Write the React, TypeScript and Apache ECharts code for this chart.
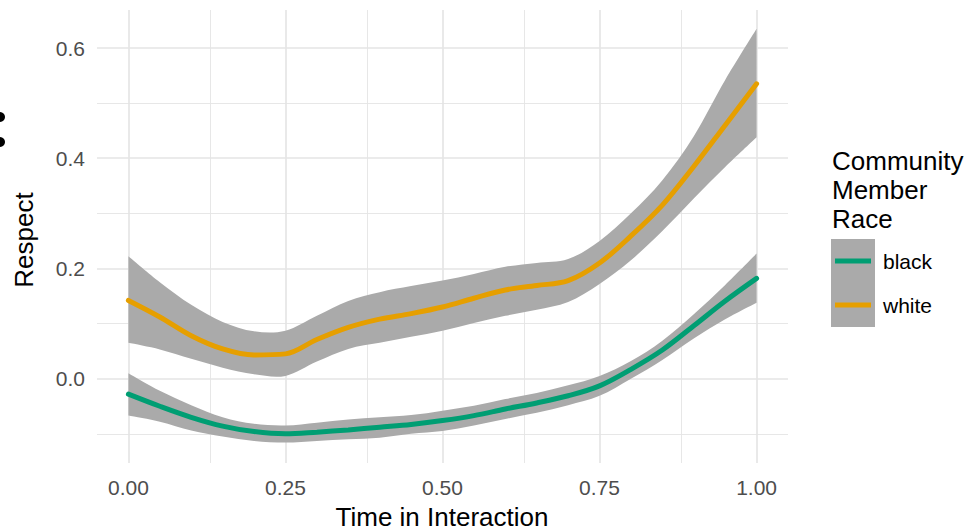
import { useEffect, useRef } from "react";
import * as echarts from "echarts";

// Time positions (x) at which the curves are read
const timePoints = [0, 0.05, 0.1, 0.15, 0.2, 0.25, 0.3, 0.35, 0.4, 0.45, 0.5, 0.55, 0.6, 0.65, 0.7, 0.75, 0.8, 0.85, 0.9, 0.95, 1.0];

// Community member race: white
const whiteFit = [0.142, 0.112, 0.078, 0.054, 0.043, 0.045, 0.071, 0.093, 0.108, 0.118, 0.13, 0.146, 0.161, 0.169, 0.178, 0.21, 0.259, 0.315, 0.385, 0.46, 0.535];
const whiteUpper = [0.222, 0.175, 0.134, 0.103, 0.086, 0.087, 0.114, 0.141, 0.157, 0.168, 0.178, 0.19, 0.203, 0.21, 0.217, 0.25, 0.3, 0.36, 0.44, 0.542, 0.635];
const whiteLower = [0.065, 0.053, 0.036, 0.02, 0.008, 0.005, 0.031, 0.054, 0.065, 0.076, 0.087, 0.101, 0.114, 0.125, 0.139, 0.172, 0.215, 0.268, 0.327, 0.384, 0.438];

// Community member race: black
const blackFit = [-0.028, -0.05, -0.07, -0.086, -0.096, -0.1, -0.097, -0.093, -0.088, -0.083, -0.076, -0.067, -0.055, -0.044, -0.031, -0.013, 0.017, 0.052, 0.096, 0.141, 0.182];
const blackUpper = [0.01, -0.022, -0.048, -0.07, -0.082, -0.085, -0.08, -0.074, -0.07, -0.066, -0.058, -0.049, -0.037, -0.026, -0.012, 0.005, 0.032, 0.069, 0.117, 0.17, 0.227];
const blackLower = [-0.067, -0.078, -0.094, -0.105, -0.113, -0.116, -0.113, -0.11, -0.107, -0.1, -0.095, -0.085, -0.073, -0.062, -0.048, -0.031, 0.0, 0.034, 0.073, 0.108, 0.138];

// Axes
const xTicks = [0, 0.25, 0.5, 0.75, 1.0];
const xMinor = [0.125, 0.375, 0.625, 0.875];
const yTicks = [0, 0.2, 0.4, 0.6];
const yMinor = [-0.1, 0.1, 0.3, 0.5];
const xRange = [-0.05, 1.05];
const yRange = [-0.153, 0.669];

const xTitle = "Time in Interaction";
const yTitle = "Respect";
const legendTitle = ["Community", "Member", "Race"];
const groupNames = ["black", "white"];
const groupColors = ["#009E73", "#E69F00"];

const FONT = "'Liberation Sans', Arial, Helvetica, sans-serif";
const BAND = "#aaaaaa";
const GRID = "#e4e4e4";

// Catmull-Rom spline through pixel points, as cubic bezier path commands
function splineSegments(pts: number[][]): string {
  let d = "";
  const n = pts.length;
  for (let i = 0; i < n - 1; i++) {
    const p0 = pts[i - 1] || pts[i];
    const p1 = pts[i];
    const p2 = pts[i + 1];
    const p3 = pts[i + 2] || pts[i + 1];
    const c1x = p1[0] + (p2[0] - p0[0]) / 6;
    const c1y = p1[1] + (p2[1] - p0[1]) / 6;
    const c2x = p2[0] - (p3[0] - p1[0]) / 6;
    const c2y = p2[1] - (p3[1] - p1[1]) / 6;
    d += ` C ${c1x} ${c1y} ${c2x} ${c2y} ${p2[0]} ${p2[1]}`;
  }
  return d;
}

function bandSeries(name: string, upper: number[], lower: number[]) {
  return {
    type: "custom",
    name: name + " band",
    z: 2,
    silent: true,
    data: timePoints.map((t, i) => [t, lower[i], upper[i]]),
    encode: { x: 0, y: [1, 2] },
    renderItem: (params: any, api: any) => {
      if (params.dataIndex !== 0) return { type: "group", children: [] };
      const up: number[][] = timePoints.map((t, i) => api.coord([t, upper[i]]));
      const lo: number[][] = timePoints.map((t, i) => api.coord([t, lower[i]])).reverse();
      const d =
        `M ${up[0][0]} ${up[0][1]}` +
        splineSegments(up) +
        ` L ${lo[0][0]} ${lo[0][1]}` +
        splineSegments(lo) +
        " Z";
      return { type: "path", shape: { pathData: d }, style: { fill: BAND } };
    },
  };
}

function fitSeries(name: string, fit: number[], color: string) {
  return {
    type: "line",
    name,
    z: 3,
    silent: true,
    smooth: 0.35,
    showSymbol: false,
    data: timePoints.map((t, i) => [t, fit[i]]),
    lineStyle: { color, width: 5, cap: "round" },
  };
}

export default function App() {
  const ref = useRef<HTMLDivElement>(null);
  useEffect(() => {
    if (!ref.current) return;
    const chart = echarts.init(ref.current, null, { renderer: "svg" });

    const major = { color: GRID, width: 1.6, type: "solid" };
    const minor = { color: GRID, width: 0.9, type: "solid" };
    const gridLines = [
      ...xMinor.map((v) => ({ xAxis: v, lineStyle: minor })),
      ...yMinor.map((v) => ({ yAxis: v, lineStyle: minor })),
      ...xTicks.map((v) => ({ xAxis: v, lineStyle: major })),
      ...yTicks.map((v) => ({ yAxis: v, lineStyle: major })),
    ];

    const legendX = 831;
    const legendTop = 239;
    const keySize = 44;

    chart.setOption({
      animation: false,
      backgroundColor: "#ffffff",
      textStyle: { fontFamily: FONT },
      grid: { left: 97, top: 10, width: 691, height: 453, containLabel: false },
      xAxis: {
        type: "value",
        min: xRange[0],
        max: xRange[1],
        axisLine: { show: false },
        axisTick: { show: false },
        splitLine: { show: false },
        axisLabel: {
          customValues: xTicks,
          formatter: (v: number) => v.toFixed(2),
          color: "#4d4d4d",
          fontSize: 21,
          fontFamily: FONT,
          margin: 14,
        },
      },
      yAxis: {
        type: "value",
        min: yRange[0],
        max: yRange[1],
        axisLine: { show: false },
        axisTick: { show: false },
        splitLine: { show: false },
        axisLabel: {
          customValues: yTicks,
          formatter: (v: number) => v.toFixed(1),
          color: "#4d4d4d",
          fontSize: 21,
          fontFamily: FONT,
          margin: 12,
        },
      },
      series: [
        {
          type: "line",
          name: "grid",
          data: [],
          silent: true,
          markLine: {
            silent: true,
            z: 1,
            symbol: ["none", "none"],
            label: { show: false },
            emphasis: { disabled: true },
            data: gridLines,
          },
        },
        bandSeries(groupNames[0], blackUpper, blackLower),
        bandSeries(groupNames[1], whiteUpper, whiteLower),
        fitSeries(groupNames[0], blackFit, groupColors[0]),
        fitSeries(groupNames[1], whiteFit, groupColors[1]),
      ],
      graphic: [
        {
          type: "text",
          x: 442,
          y: 530,
          style: { text: xTitle, font: `26px ${FONT}`, fill: "#000", align: "center", verticalAlign: "bottom" },
        },
        {
          type: "text",
          x: 24,
          y: 240,
          rotation: Math.PI / 2,
          style: { text: yTitle, font: `26px ${FONT}`, fill: "#000", align: "center", verticalAlign: "middle" },
        },
        ...legendTitle.map((t, i) => ({
          type: "text",
          x: 832,
          y: 161 + i * 29,
          style: { text: t, font: `26px ${FONT}`, fill: "#000", align: "left", verticalAlign: "middle" },
        })),
        {
          type: "rect",
          shape: { x: legendX, y: legendTop, width: keySize, height: keySize * 2 },
          style: { fill: BAND },
        },
        ...groupNames.map((g, i) => ({
          type: "line",
          shape: {
            x1: legendX + 4,
            y1: legendTop + keySize / 2 + i * keySize,
            x2: legendX + keySize - 4,
            y2: legendTop + keySize / 2 + i * keySize,
          },
          style: { stroke: groupColors[i], lineWidth: 5 },
        })),
        ...groupNames.map((g, i) => ({
          type: "text",
          x: legendX + keySize + 8,
          y: legendTop + keySize / 2 + i * keySize,
          style: { text: g, font: `21px ${FONT}`, fill: "#000", align: "left", verticalAlign: "middle" },
        })),
        { type: "circle", shape: { cx: 0, cy: 117, r: 5 }, style: { fill: "#000" } },
        { type: "circle", shape: { cx: 0, cy: 142, r: 5 }, style: { fill: "#000" } },
      ],
    });
    return () => chart.dispose();
  }, []);
  return <div ref={ref} style={{ position: "fixed", left: 0, top: 0, width: 976, height: 532 }} />;
}
